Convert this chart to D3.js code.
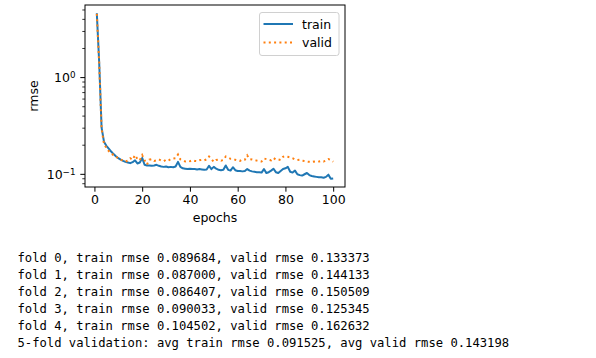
<!DOCTYPE html>
<html><head><meta charset="utf-8">
<script src="https://cdn.jsdelivr.net/npm/d3@7"></script>
<style>
body{margin:0;background:#fff;}
svg{display:block;}
</style></head><body>
<svg id="c" width="596" height="358"></svg>
<script>
const epochs = d3.range(1, 101);
const trainRmse = [4.57,1.40,0.30,0.215,0.195,0.182,0.170,0.160,0.152,0.145,
0.140,0.136,0.133,0.131,0.129,0.132,0.138,0.128,0.131,0.146,
0.124,0.122,0.122,0.121,0.122,0.124,0.121,0.119,0.118,0.119,
0.117,0.118,0.117,0.119,0.133,0.118,0.114,0.113,0.112,0.113,
0.112,0.112,0.111,0.112,0.111,0.110,0.111,0.121,0.112,0.118,
0.113,0.110,0.109,0.110,0.122,0.110,0.108,0.117,0.109,0.107,
0.107,0.106,0.107,0.112,0.108,0.106,0.105,0.104,0.104,0.103,
0.112,0.102,0.104,0.108,0.113,0.104,0.102,0.107,0.112,0.114,
0.118,0.105,0.103,0.108,0.099,0.097,0.096,0.099,0.102,0.097,
0.095,0.094,0.093,0.092,0.092,0.091,0.093,0.098,0.089,0.0897];
const validRmse = [4.50,1.38,0.29,0.205,0.185,0.172,0.163,0.156,0.150,0.145,
0.140,0.137,0.134,0.137,0.145,0.140,0.156,0.142,0.138,0.156,
0.138,0.125,0.140,0.142,0.136,0.138,0.141,0.137,0.135,0.140,
0.137,0.142,0.144,0.145,0.158,0.141,0.138,0.134,0.136,0.135,
0.138,0.136,0.135,0.138,0.140,0.138,0.141,0.151,0.142,0.133,
0.139,0.140,0.137,0.139,0.151,0.147,0.143,0.143,0.140,0.138,
0.136,0.141,0.140,0.155,0.142,0.141,0.139,0.137,0.135,0.134,
0.144,0.142,0.140,0.138,0.146,0.140,0.141,0.139,0.150,0.152,
0.150,0.148,0.145,0.141,0.139,0.140,0.137,0.136,0.134,0.133,
0.132,0.134,0.133,0.134,0.136,0.134,0.137,0.142,0.139,0.1334];
const xTicks = [0, 20, 40, 60, 80, 100];
const yTicks = [1, 0.1];
const yTickExp = ["0", "\u22121"];
const legendLabels = ["train", "valid"];
const outputLines = [
"fold 0, train rmse 0.089684, valid rmse 0.133373",
"fold 1, train rmse 0.087000, valid rmse 0.144133",
"fold 2, train rmse 0.086407, valid rmse 0.150509",
"fold 3, train rmse 0.090033, valid rmse 0.125345",
"fold 4, train rmse 0.104502, valid rmse 0.162632",
"5-fold validation: avg train rmse 0.091525, avg valid rmse 0.143198"
];

const svg = d3.select("#c");
const L = 85, R = 345, T = 5, B = 187;
const xMin = d3.min(epochs), xMax = d3.max(epochs), xm = (xMax - xMin) * 0.05;
const x = d3.scaleLinear().domain([xMin - xm, xMax + xm]).range([L, R]);
const all = trainRmse.concat(validRmse);
const lmin = Math.log10(d3.min(all)), lmax = Math.log10(d3.max(all)), lm = (lmax - lmin) * 0.05;
const y = d3.scaleLog().domain([Math.pow(10, lmin - lm), Math.pow(10, lmax + lm)]).range([B, T]);

const font = "DejaVu Sans, sans-serif";
const fs = 12.5;

// lines
const g = svg.append("g");
const clip = svg.append("clipPath").attr("id","cp").append("rect")
  .attr("x", L).attr("y", T).attr("width", R-L).attr("height", B-T);
const line = d3.line().x((d,i)=>x(epochs[i])).y(d=>y(d));
g.append("path").datum(trainRmse).attr("d", line).attr("fill","none")
  .attr("stroke","#1f77b4").attr("stroke-width",2).attr("stroke-linejoin","round").attr("clip-path","url(#cp)");
g.append("path").datum(validRmse).attr("d", line).attr("fill","none")
  .attr("stroke","#ff7f0e").attr("stroke-width",2).attr("stroke-dasharray","2,3.3").attr("clip-path","url(#cp)");

// axes
const xAxis = d3.axisBottom(x).tickValues(xTicks).tickSize(4.7).tickPadding(3.5).tickFormat(d3.format("d"));
const gx = svg.append("g").attr("transform",`translate(0,${B})`).call(xAxis);
gx.select(".domain").remove();
gx.selectAll("line").attr("stroke","#000").attr("stroke-width",1);
gx.selectAll("text").attr("font-family",font).attr("font-size",fs).attr("fill","#000");

const minorTicks = [];
const [d0, d1] = y.domain();
for (let e = Math.floor(Math.log10(d0)); e <= Math.ceil(Math.log10(d1)); e++) {
  for (let m = 2; m <= 9; m++) { const v = m * Math.pow(10, e); if (v >= d0 && v <= d1) minorTicks.push(v); }
}
const gyMinor = svg.append("g").attr("transform",`translate(${L},0)`)
  .call(d3.axisLeft(y).tickValues(minorTicks).tickSize(2.7).tickFormat(""));
gyMinor.select(".domain").remove();
gyMinor.selectAll("line").attr("stroke","#000").attr("stroke-width",0.8);

const gy = svg.append("g").attr("transform",`translate(${L},0)`)
  .call(d3.axisLeft(y).tickValues(yTicks).tickSize(4.7).tickPadding(3.5).tickFormat(""));
gy.select(".domain").remove();
gy.selectAll("line").attr("stroke","#000").attr("stroke-width",1);
gy.selectAll(".tick").each(function(d,i){
  const t = d3.select(this).append("text").attr("x",-9.5).attr("dy","0.36em")
    .attr("text-anchor","end").attr("font-family",font).attr("font-size",fs).attr("fill","#000");
  t.append("tspan").text("10");
  t.append("tspan").attr("dy","-0.45em").attr("font-size",fs*0.7).text(yTickExp[i]);
});

// frame
svg.append("rect").attr("x",L).attr("y",T).attr("width",R-L).attr("height",B-T)
  .attr("fill","none").attr("stroke","#000").attr("stroke-width",1);

// axis labels
svg.append("text").attr("x",(L+R)/2).attr("y",222).attr("text-anchor","middle")
  .attr("font-family",font).attr("font-size",fs).text("epochs");
svg.append("text").attr("transform",`translate(38,${(T+B)/2}) rotate(-90)`).attr("text-anchor","middle")
  .attr("font-family",font).attr("font-size",fs).text("rmse");

// legend
const lg = svg.append("g");
lg.append("rect").attr("x",259.5).attr("y",12.5).attr("width",79.5).attr("height",43).attr("rx",2.5)
  .attr("fill","#fff").attr("fill-opacity",0.8).attr("stroke","#d0d0d0").attr("stroke-width",1);
const styles = [{c:"#1f77b4",dash:null},{c:"#ff7f0e",dash:"2,3.3"}];
legendLabels.forEach((lab,i)=>{
  const yy = 24 + i*18.5;
  const ln = lg.append("line").attr("x1",263.5).attr("x2",293).attr("y1",yy).attr("y2",yy)
    .attr("stroke",styles[i].c).attr("stroke-width",2);
  if (styles[i].dash) ln.attr("stroke-dasharray",styles[i].dash);
  lg.append("text").attr("x",302).attr("y",yy).attr("dy","0.36em").attr("font-family",font)
    .attr("font-size",fs).text(lab);
});

// printed output
svg.append("g").selectAll("text").data(outputLines).join("text")
  .attr("x",17.5).attr("y",(d,i)=>261.5 + i*17)
  .attr("font-family","DejaVu Sans Mono, monospace").attr("font-size",12.2).attr("fill","#000")
  .attr("xml:space","preserve").style("white-space","pre").text(d=>d);
</script>
</body></html>
